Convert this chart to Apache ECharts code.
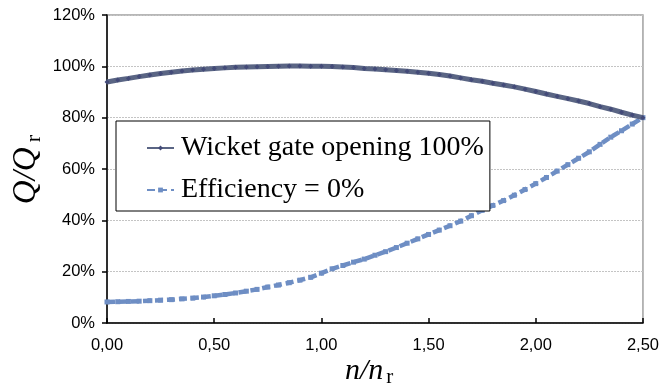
<!DOCTYPE html>
<html><head><meta charset="utf-8">
<script src="https://cdn.jsdelivr.net/npm/echarts@6/dist/echarts.min.js"></script>
<style>html,body{margin:0;padding:0;background:#fff}#c{width:662px;height:389px}</style>
</head><body><div id="c"></div>
<script>
const nValues = [0,0.05,0.10,0.15,0.20,0.25,0.30,0.35,0.40,0.45,0.50,0.55,0.60,0.65,0.70,0.75,0.80,0.85,0.90,0.95,1.00,1.05,1.10,1.15,1.20,1.25,1.30,1.35,1.40,1.45,1.50,1.55,1.60,1.65,1.70,1.75,1.80,1.85,1.90,1.95,2.00,2.05,2.10,2.15,2.20,2.25,2.30,2.35,2.40,2.45,2.50];
const wicketGate = [93.9,94.7,95.3,96.0,96.6,97.2,97.7,98.2,98.6,98.9,99.2,99.4,99.6,99.7,99.8,99.9,100.0,100.1,100.1,100.0,100.0,99.9,99.7,99.5,99.2,99.0,98.7,98.4,98.1,97.7,97.3,96.8,96.2,95.5,94.8,94.2,93.4,92.7,92.0,91.1,90.2,89.2,88.3,87.4,86.5,85.5,84.3,83.3,82.1,81.0,80.0];
const efficiency0 = [8.2,8.3,8.4,8.5,8.7,8.9,9.1,9.4,9.7,10.1,10.6,11.1,11.7,12.4,13.1,14.0,14.8,15.7,16.7,17.8,19.4,21.1,22.4,23.7,24.9,26.4,27.8,29.4,31.1,32.8,34.5,36.2,37.9,39.7,41.8,43.9,45.8,47.7,49.8,52.0,54.3,56.7,59.2,61.7,64.2,66.7,69.6,72.4,74.9,77.5,80.0];
const seriesNames = ['Wicket gate opening 100%','Efficiency = 0%'];
const xTicks = [0,0.5,1.0,1.5,2.0,2.5];
const yTicks = [0,20,40,60,80,100,120];

const chart = echarts.init(document.getElementById('c'));
chart.setOption({
  animation:false,
  backgroundColor:'#fff',
  grid:{left:107,right:17,top:15,bottom:66,show:true,borderColor:'#a0a0a0',borderWidth:1.5,backgroundColor:'transparent'},
  xAxis:{type:'value',min:xTicks[0],max:xTicks[xTicks.length-1],interval:0.5,
    axisLine:{lineStyle:{color:'#000',width:1.5}},
    axisTick:{inside:true,length:5,lineStyle:{color:'#000',width:1.5}},
    splitLine:{show:false},
    axisLabel:{margin:14,color:'#000',fontFamily:'Liberation Sans',fontSize:16.5,
      formatter:v=>v.toFixed(2).replace('.',',')}},
  yAxis:{type:'value',min:yTicks[0],max:yTicks[yTicks.length-1],interval:20,
    axisLine:{show:true,lineStyle:{color:'#000',width:1.5}},
    axisTick:{show:true,inside:false,length:5,lineStyle:{color:'#000',width:1.5}},
    splitLine:{show:true,lineStyle:{color:'#c4c4c4',type:[2,1],width:1}},
    axisLabel:{margin:12,color:'#000',fontFamily:'Liberation Sans',fontSize:16.5,formatter:v=>v+'%'}},
  legend:{orient:'vertical',left:116,top:121,itemWidth:27,itemHeight:6,itemGap:14,
    backgroundColor:'#fff',borderColor:'#000',borderWidth:1,padding:[13,6,7,30],
    textStyle:{fontFamily:'Liberation Serif',fontSize:28,lineHeight:28,color:'#000',padding:[0,0,0,2]},
    data:seriesNames},
  series:[
    {name:seriesNames[0],type:'line',data:nValues.map((n,i)=>[n,wicketGate[i]]),
     lineStyle:{color:'#5a6584',width:5},
     itemStyle:{color:'#434a78'},symbol:'diamond',symbolSize:5,showSymbol:true,z:3},
    {name:seriesNames[1],type:'line',data:nValues.map((n,i)=>[n,efficiency0[i]]),
     lineStyle:{color:'#6e8ec4',width:4.5,type:[8,4]},
     itemStyle:{color:'#6e8ec4'},symbol:'rect',symbolSize:5,showSymbol:true,z:2}
  ],
  graphic:[
    {type:'text',left:10,top:135,rotation:Math.PI/2,
      style:{rich:{q:{fontFamily:'Liberation Serif',fontStyle:'italic',fontSize:33,fill:'#000'},
                   s:{fontFamily:'Liberation Serif',fontSize:22,fill:'#000',padding:[15,0,0,5]}},
             text:'{q|Q/Q}{s|r}'}},
    {type:'text',left:345,top:356,
      style:{rich:{q:{fontFamily:'Liberation Serif',fontStyle:'italic',fontSize:30,fill:'#000'},
                   s:{fontFamily:'Liberation Serif',fontSize:21,fill:'#000',padding:[13,0,0,3]}},
             text:'{q|n/n}{s|r}'}}
  ]
});
</script></body></html>
